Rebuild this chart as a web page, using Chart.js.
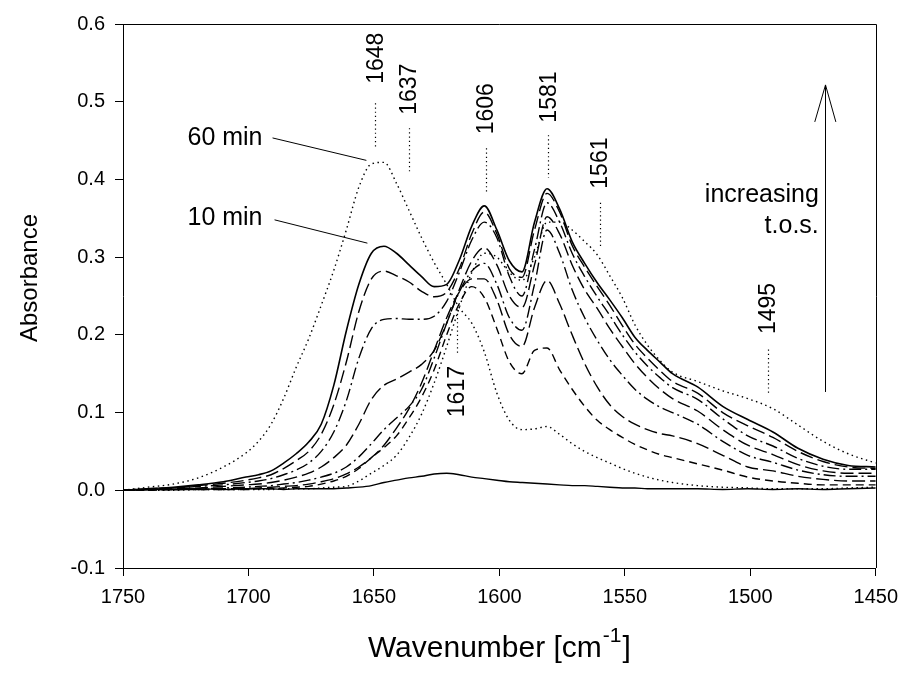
<!DOCTYPE html>
<html><head><meta charset="utf-8">
<script src="https://cdn.jsdelivr.net/npm/chart.js@4.4.0/dist/chart.umd.min.js"></script>
<style>html,body{margin:0;padding:0;background:#fff}#wrap{width:907px;height:681px;position:relative}</style>
</head><body><div id="wrap"><canvas id="c"></canvas></div>
<script>
// ---- data (wavenumber grid, absorbance series) ----
const wavenumbers = [1750,1740,1730,1720,1710,1701,1696,1691,1686,1681,1676,1671,1666,1661,1656,1651,1646,1641,1636,1631,1626,1621,1616,1611,1606,1601,1596,1591,1586,1581,1576,1571,1566,1561,1556,1551,1546,1541,1536,1531,1521,1511,1501,1491,1481,1471,1461,1450];

const background = [0.000,0.001,0.001,0.002,0.001,0.002,0.002,0.002,0.001,0.002,0.002,0.002,0.002,0.003,0.004,0.006,0.010,0.013,0.016,0.018,0.021,0.022,0.020,0.017,0.015,0.013,0.011,0.010,0.009,0.008,0.007,0.006,0.006,0.005,0.004,0.003,0.003,0.002,0.002,0.002,0.002,0.001,0.002,0.001,0.002,0.001,0.002,0.003];

const min60 = [0.000,0.004,0.008,0.016,0.030,0.048,0.063,0.085,0.118,0.158,0.195,0.238,0.283,0.335,0.390,0.420,0.422,0.395,0.360,0.325,0.293,0.265,0.235,0.215,0.178,0.125,0.090,0.078,0.079,0.082,0.072,0.060,0.050,0.042,0.035,0.028,0.022,0.017,0.013,0.010,0.006,0.004,0.003,0.002,0.002,0.002,0.003,0.004];

const min10 = [0.000,0.002,0.004,0.007,0.011,0.017,0.020,0.025,0.035,0.047,0.062,0.085,0.135,0.205,0.265,0.305,0.314,0.305,0.290,0.275,0.262,0.265,0.296,0.340,0.366,0.335,0.295,0.281,0.345,0.388,0.362,0.320,0.292,0.267,0.245,0.222,0.197,0.180,0.165,0.150,0.133,0.108,0.091,0.075,0.054,0.040,0.032,0.030];

const seriesB = [0.000,0.002,0.003,0.006,0.009,0.013,0.016,0.020,0.028,0.038,0.050,0.072,0.110,0.165,0.230,0.272,0.282,0.276,0.268,0.256,0.249,0.255,0.285,0.330,0.358,0.330,0.285,0.274,0.335,0.382,0.358,0.315,0.287,0.262,0.238,0.212,0.188,0.170,0.154,0.140,0.125,0.100,0.083,0.068,0.050,0.037,0.030,0.028];

const seriesC = [0.000,0.002,0.003,0.005,0.007,0.010,0.012,0.015,0.020,0.026,0.035,0.050,0.075,0.115,0.170,0.208,0.220,0.221,0.220,0.220,0.224,0.243,0.280,0.322,0.345,0.325,0.275,0.250,0.310,0.370,0.345,0.305,0.275,0.249,0.225,0.200,0.178,0.160,0.145,0.132,0.117,0.092,0.070,0.057,0.041,0.031,0.027,0.027];

const seriesD = [0.000,0.001,0.002,0.003,0.005,0.007,0.008,0.010,0.013,0.017,0.022,0.030,0.042,0.058,0.085,0.117,0.135,0.143,0.152,0.162,0.180,0.215,0.258,0.295,0.312,0.290,0.250,0.235,0.290,0.352,0.330,0.290,0.258,0.234,0.208,0.185,0.163,0.145,0.130,0.118,0.102,0.078,0.058,0.046,0.033,0.025,0.022,0.022];

const seriesE = [0.000,0.001,0.001,0.002,0.003,0.004,0.005,0.006,0.008,0.010,0.013,0.017,0.022,0.030,0.043,0.060,0.078,0.093,0.108,0.130,0.170,0.215,0.255,0.282,0.292,0.265,0.222,0.206,0.265,0.335,0.305,0.258,0.222,0.193,0.168,0.148,0.130,0.117,0.107,0.100,0.085,0.063,0.045,0.036,0.026,0.020,0.018,0.018];

const seriesF = [0.000,0.001,0.001,0.001,0.002,0.002,0.003,0.004,0.005,0.006,0.008,0.011,0.015,0.021,0.030,0.042,0.058,0.080,0.105,0.138,0.180,0.222,0.255,0.272,0.272,0.245,0.200,0.185,0.235,0.270,0.240,0.200,0.163,0.133,0.110,0.095,0.085,0.078,0.073,0.070,0.060,0.045,0.030,0.025,0.018,0.014,0.012,0.012];

const seriesG = [0.000,0.000,0.001,0.001,0.001,0.001,0.002,0.002,0.003,0.004,0.005,0.008,0.012,0.018,0.028,0.042,0.055,0.070,0.093,0.120,0.155,0.200,0.240,0.262,0.248,0.208,0.165,0.150,0.180,0.183,0.155,0.130,0.108,0.090,0.078,0.068,0.059,0.052,0.046,0.042,0.034,0.026,0.017,0.012,0.009,0.007,0.007,0.007];

const seriesH = [0.000,0.000,0.000,0.001,0.001,0.001,0.001,0.001,0.002,0.002,0.002,0.003,0.004,0.005,0.012,0.022,0.032,0.045,0.068,0.098,0.138,0.185,0.235,0.280,0.305,0.300,0.280,0.270,0.300,0.345,0.345,0.335,0.320,0.303,0.276,0.248,0.213,0.187,0.167,0.152,0.140,0.128,0.118,0.105,0.084,0.063,0.047,0.035];

const xTicks = [1750,1700,1650,1600,1550,1500,1450];
const yTicks = [-0.1,0.0,0.1,0.2,0.3,0.4,0.5,0.6];

// peak annotations
const peakLabels  = ['1648','1637','1606','1581','1561','1495','1617'];
const peakX       = [1649.5,1636,1605.5,1580.5,1560,1493,1617];
const peakTextY   = [0.556,0.516,0.491,0.506,0.421,0.234,0.127];
const leaderFrom  = [0.498,0.466,0.440,0.457,0.370,0.181,0.177];
const leaderTo    = [0.442,0.410,0.384,0.402,0.312,0.125,0.235];

const curveLabels = ['60 min','10 min'];
const curveLabelX = [1694.4,1694.4];
const curveLabelY = [0.453,0.350];
const curveLeaderFrom = [[1690.4,0.4534],[1689.6,0.348]];
const curveLeaderTo   = [[1653.0,0.4245],[1652.6,0.318]];

const FONT = '"Liberation Sans", Arial, sans-serif';

function mk(vals, dash, w){
  return {
    data: wavenumbers.map((x,i)=>({x:x, y:vals[i]})),
    borderColor:'#000', borderWidth: w||1.4, borderDash: dash,
    pointRadius:0, fill:false, cubicInterpolationMode:'monotone'
  };
}
const DOT=[1.5,3.5], LONG=[13,5], DASHDOT=[12,4,2,4], DASH=[8,5];

const annot = {
  id:'annot',
  afterDraw(chart){
    const {ctx, chartArea:a, scales:{x,y}} = chart;
    const X = v=>x.getPixelForValue(v), Y = v=>y.getPixelForValue(v);
    ctx.save();
    ctx.strokeStyle='#000'; ctx.fillStyle='#000'; ctx.lineWidth=1;
    // frame top & right
    ctx.beginPath();
    ctx.moveTo(a.left, Math.round(a.top)+0.5);
    ctx.lineTo(Math.round(a.right)+0.5, Math.round(a.top)+0.5);
    ctx.lineTo(Math.round(a.right)+0.5, a.bottom);
    ctx.stroke();
    // peak labels
    ctx.font = '23px '+FONT;
    ctx.textAlign='center'; ctx.textBaseline='middle';
    for(let i=0;i<peakLabels.length;i++){
      const px = X(peakX[i]);
      ctx.save(); ctx.translate(px+1, Y(peakTextY[i])); ctx.rotate(-Math.PI/2);
      ctx.fillText(peakLabels[i],0,0); ctx.restore();
      ctx.save(); ctx.setLineDash([1.2,3]); ctx.lineWidth=1.2;
      ctx.beginPath(); ctx.moveTo(Math.round(px)+0.5, Y(leaderFrom[i])); ctx.lineTo(Math.round(px)+0.5, Y(leaderTo[i])); ctx.stroke();
      ctx.restore();
    }
    // curve labels
    ctx.font = '25px '+FONT; ctx.textAlign='right';
    for(let i=0;i<curveLabels.length;i++){
      ctx.fillText(curveLabels[i], X(curveLabelX[i]), Y(curveLabelY[i]));
      ctx.beginPath();
      ctx.moveTo(X(curveLeaderFrom[i][0]), Y(curveLeaderFrom[i][1]));
      ctx.lineTo(X(curveLeaderTo[i][0]), Y(curveLeaderTo[i][1]));
      ctx.stroke();
    }
    // increasing t.o.s. arrow
    ctx.fillText('increasing', X(1472.7), Y(0.380));
    ctx.fillText('t.o.s.', X(1472.7), Y(0.340));
    const ax = Math.round(X(1470.3))+0.5;
    ctx.beginPath(); ctx.moveTo(ax, Y(0.1265)); ctx.lineTo(ax, Y(0.5216)); ctx.stroke();
    ctx.beginPath(); ctx.moveTo(X(1474.3), Y(0.474)); ctx.lineTo(ax, Y(0.5216)); ctx.lineTo(X(1465.9), Y(0.474)); ctx.stroke();
    // axis titles
    ctx.font = '24px '+FONT; ctx.textAlign='center';
    ctx.save(); ctx.translate(30, 278); ctx.rotate(-Math.PI/2);
    ctx.fillText('Absorbance',0,0); ctx.restore();
    const t1='Wavenumber [cm', t2='-1', t3=']';
    ctx.font='30px '+FONT; const w1=ctx.measureText(t1).width, w3=ctx.measureText(t3).width;
    ctx.font='21px '+FONT; const w2=ctx.measureText(t2).width;
    const cx=(a.left+a.right)/2, tot=w1+w2+w3+2, sx=cx-tot/2, by=657;
    ctx.textAlign='left'; ctx.textBaseline='alphabetic';
    ctx.font='30px '+FONT; ctx.fillText(t1, sx, by);
    ctx.font='21px '+FONT; ctx.fillText(t2, sx+w1+1, by-15);
    ctx.font='30px '+FONT; ctx.fillText(t3, sx+w1+w2+2, by);
    ctx.restore();
  }
};

new Chart(document.getElementById('c'), {
  type:'line',
  data:{ datasets:[
    mk(background, [], 1.4),
    mk(min60, DOT, 1.4),
    mk(seriesH, DOT, 1.4),
    mk(seriesG, DASH, 1.4),
    mk(seriesF, LONG, 1.4),
    mk(seriesE, DASHDOT, 1.4),
    mk(seriesD, LONG, 1.4),
    mk(seriesC, DASHDOT, 1.4),
    mk(seriesB, LONG, 1.4),
    mk(min10, [], 1.6)
  ]},
  options:{
    responsive:true, maintainAspectRatio:false, animation:false,
    layout:{padding:{left:0, top:24, right:27, bottom:0}},
    plugins:{legend:{display:false}, tooltip:{enabled:false}},
    scales:{
      x:{ type:'linear', reverse:true, min:1450, max:1750,
          afterBuildTicks: s => { s.ticks = xTicks.map(v=>({value:v})); },
          afterFit: s => { s.height = 113; },
          ticks:{ color:'#000', font:{family:FONT, size:20}, padding:9, maxRotation:0, autoSkip:false,
                  callback: v => String(v) },
          grid:{ drawOnChartArea:false, drawTicks:true, tickLength:8, color:'#000', tickColor:'#000' },
          border:{ display:true, color:'#000', width:1 } },
      y:{ type:'linear', min:-0.1, max:0.6,
          afterBuildTicks: s => { s.ticks = yTicks.map(v=>({value:v})); },
          afterFit: s => { s.width = 123; },
          ticks:{ color:'#000', font:{family:FONT, size:20}, padding:10,
                  callback: v => { const r=Math.round(v*10)/10; return (r===0?0:r).toFixed(1); } },
          grid:{ drawOnChartArea:false, drawTicks:true, tickLength:8, color:'#000', tickColor:'#000' },
          border:{ display:true, color:'#000', width:1 } }
    }
  },
  plugins:[annot]
});
</script></body></html>
